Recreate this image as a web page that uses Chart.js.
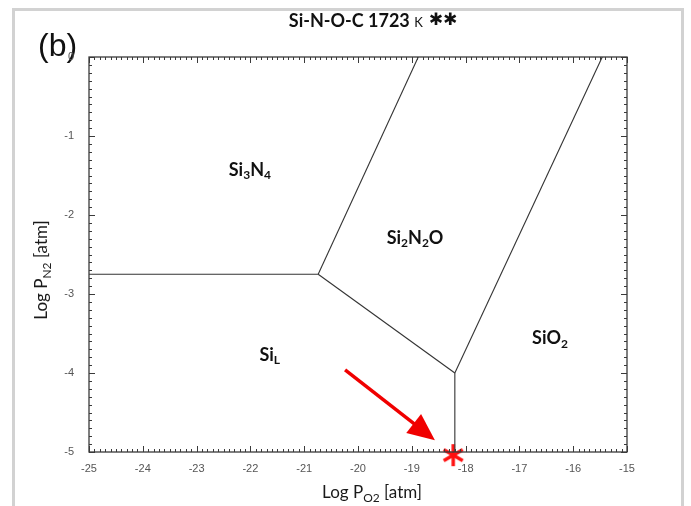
<!DOCTYPE html>
<html>
<head>
<meta charset="utf-8">
<script src="https://cdn.jsdelivr.net/npm/chart.js@4.4.0/dist/chart.umd.min.js"></script>
<style>
html, body { margin: 0; padding: 0; background: #fff; }
</style>
</head>
<body>
<canvas id="diagram" width="691" height="506"></canvas>
<script>
'use strict';
/*----data: log P(O2) / log P(N2) at 1723 K----*/
var xRange = [-25, -15];
var yRange = [-5, 0];

// phase boundaries, [logPO2, logPN2] end points
var bndSi3N4_Si = [[-25, -2.75], [-20.74, -2.75]];
var bndSi3N4_Si2N2O = [[-20.74, -2.75], [-18.88, 0]];
var bndSi_Si2N2O = [[-20.74, -2.75], [-18.2, -4.0]];
var bndSi_SiO2 = [[-18.2, -4.0], [-18.2, -5]];
var bndSi2N2O_SiO2 = [[-18.2, -4.0], [-15.46, 0]];

// phase field names (text, subscript flag) and where they sit
var phaseNames = [
	[['Si', 0], ['3', 1], ['N', 0], ['4', 1]],
	[['Si', 0], ['2', 1], ['N', 0], ['2', 1], ['O', 0]],
	[['Si', 0], ['L', 1]],
	[['Si', 0], ['O', 0], ['2', 1]]
];
var phaseX = [-22.01, -18.94, -21.64, -16.43];
var phaseY = [-1.43, -2.29, -3.77, -3.56];

// red arrow (tail, tip) and the marked working point
var arrowX = [-20.24, -18.57];
var arrowY = [-3.96, -4.85];
var markX = [-18.23];
var markY = [-5.04];

/*----red asterisk used as point style----*/
var star = document.createElement('canvas');
star.width = 26; star.height = 26;
(function() {
	var s = star.getContext('2d');
	s.strokeStyle = '#ff1010';
	s.lineWidth = 3.4;
	for (var k = 0; k < 3; k++) {
		var a = Math.PI / 2 + k * Math.PI / 3;
		s.beginPath();
		s.moveTo(13 - Math.cos(a) * 11, 13 - Math.sin(a) * 11);
		s.lineTo(13 + Math.cos(a) * 11, 13 + Math.sin(a) * 11);
		s.stroke();
	}
})();

function pts(arr) {
	return arr.map(function(p) { return {x: p[0], y: p[1]}; });
}

function richWidth(ctx, parts, size, weight, family) {
	var w = 0;
	parts.forEach(function(p) {
		ctx.font = weight + ' ' + (p[1] ? Math.round(size * 0.68) : size) + 'px ' + family;
		w += ctx.measureText(p[0]).width;
	});
	return w;
}

function drawRich(ctx, parts, cx, cy, size, weight, family) {
	var x = cx - richWidth(ctx, parts, size, weight, family) / 2;
	ctx.textAlign = 'left';
	ctx.textBaseline = 'middle';
	parts.forEach(function(p) {
		ctx.font = weight + ' ' + (p[1] ? Math.round(size * 0.68) : size) + 'px ' + family;
		ctx.fillText(p[0], x, p[1] ? cy + size * 0.3 : cy);
		x += ctx.measureText(p[0]).width;
	});
}

var decor = {
	id: 'decor',
	beforeDraw: function(chart) {
		var ctx = chart.ctx;
		ctx.save();
		ctx.strokeStyle = '#d2d2d2';
		ctx.lineWidth = 3;
		ctx.strokeRect(13.5, 9.5, 669, 520);
		// panel letter (under the axis labels)
		ctx.fillStyle = '#111';
		ctx.textBaseline = 'middle';
		ctx.textAlign = 'left';
		ctx.font = '32px "Liberation Sans", Arial, sans-serif';
		ctx.fillText('(b)', 38, 47);
		ctx.restore();
	},
	afterDatasetsDraw: function(chart) {
		var ctx = chart.ctx, a = chart.chartArea;
		var xs = chart.scales.x, ys = chart.scales.y;
		ctx.save();
		// frame
		ctx.strokeStyle = '#3a3a3a';
		ctx.lineWidth = 1.3;
		ctx.strokeRect(a.left, a.top, a.right - a.left, a.bottom - a.top);
		// inward ticks, every 0.1
		ctx.lineWidth = 1;
		ctx.beginPath();
		for (var i = 0; i <= 100; i++) {
			var px = Math.round(xs.getPixelForValue(xRange[0] + i / 10)) + 0.5;
			var l = i % 10 === 0 ? 6 : 3;
			ctx.moveTo(px, a.bottom); ctx.lineTo(px, a.bottom - l);
			ctx.moveTo(px, a.top); ctx.lineTo(px, a.top + l);
		}
		for (var j = 0; j <= 50; j++) {
			var py = Math.round(ys.getPixelForValue(yRange[0] + j / 10)) + 0.5;
			var m = j % 10 === 0 ? 6 : 3;
			ctx.moveTo(a.left, py); ctx.lineTo(a.left + m, py);
			ctx.moveTo(a.right, py); ctx.lineTo(a.right - m, py);
		}
		ctx.stroke();

		// phase labels
		ctx.fillStyle = '#111';
		phaseNames.forEach(function(n, k) {
			drawRich(ctx, n, xs.getPixelForValue(phaseX[k]), ys.getPixelForValue(phaseY[k]), 18, 'bold', 'Lato, "Open Sans", sans-serif');
		});

		// arrow
		var x0 = xs.getPixelForValue(arrowX[0]), y0 = ys.getPixelForValue(arrowY[0]);
		var x1 = xs.getPixelForValue(arrowX[1]), y1 = ys.getPixelForValue(arrowY[1]);
		var ang = Math.atan2(y1 - y0, x1 - x0);
		var hl = 27, hw = 12;
		var bx = x1 - Math.cos(ang) * hl, by = y1 - Math.sin(ang) * hl;
		ctx.strokeStyle = '#f00000';
		ctx.fillStyle = '#f00000';
		ctx.lineWidth = 3.5;
		ctx.beginPath();
		ctx.moveTo(x0, y0); ctx.lineTo(bx + Math.cos(ang) * 2, by + Math.sin(ang) * 2);
		ctx.stroke();
		ctx.beginPath();
		ctx.moveTo(x1, y1);
		ctx.lineTo(bx - Math.sin(ang) * hw, by + Math.cos(ang) * hw);
		ctx.lineTo(bx + Math.sin(ang) * hw, by - Math.cos(ang) * hw);
		ctx.closePath();
		ctx.fill();

		// chart title
		ctx.fillStyle = '#111';
		ctx.textBaseline = 'middle';
		ctx.textAlign = 'left';
		var t1 = 'Si-N-O-C 1723 ', t2 = 'K', t3 = ' \u2731\u2731';
		ctx.font = 'bold 18px Lato, sans-serif';
		var w1 = ctx.measureText(t1).width;
		ctx.font = '13px Lato, sans-serif';
		var w2 = ctx.measureText(t2).width;
		ctx.font = 'bold 17px "DejaVu Sans", sans-serif';
		var w3 = ctx.measureText(t3).width;
		var tx = 373 - (w1 + w2 + w3) / 2;
		ctx.font = 'bold 18px Lato, sans-serif';
		ctx.fillText(t1, tx, 21);
		ctx.font = '13px Lato, sans-serif';
		ctx.fillText(t2, tx + w1, 23);
		ctx.font = 'bold 17px "DejaVu Sans", sans-serif';
		ctx.fillText(t3, tx + w1 + w2, 21);

		// axis titles
		ctx.fillStyle = '#1a1a1a';
		drawRich(ctx, [['Log P', 0], ['O2', 1], [' [atm]', 0]], 372, 493, 17, 'normal', 'Lato, sans-serif');
		ctx.translate(42, 270);
		ctx.rotate(-Math.PI / 2);
		drawRich(ctx, [['Log P', 0], ['N2', 1], [' [atm]', 0]], 0, 0, 17, 'normal', 'Lato, sans-serif');
		ctx.restore();
	}
};

function bnd(arr) {
	return {
		data: pts(arr),
		showLine: true,
		borderColor: '#333',
		borderWidth: 1.1,
		pointRadius: 0,
		fill: false
	};
}

var chart = new Chart(document.getElementById('diagram'), {
	type: 'scatter',
	data: {
		datasets: [
			bnd(bndSi3N4_Si),
			bnd(bndSi3N4_Si2N2O),
			bnd(bndSi_Si2N2O),
			bnd(bndSi_SiO2),
			bnd(bndSi2N2O_SiO2),
			{
				data: markX.map(function(v, i) { return {x: v, y: markY[i]}; }),
				pointStyle: star,
				pointRadius: 13,
				showLine: false,
				clip: false
			}
		]
	},
	options: {
		responsive: false,
		animation: false,
		devicePixelRatio: 1,
		layout: { padding: { left: 0, top: 57, right: 64, bottom: 0 } },
		plugins: {
			legend: { display: false },
			tooltip: { enabled: false },
			title: { display: false }
		},
		scales: {
			x: {
				type: 'linear',
				min: xRange[0],
				max: xRange[1],
				grid: { display: false, drawTicks: false },
				border: { display: false },
				ticks: {
					stepSize: 1,
					padding: 10,
					color: '#555',
					font: { family: '"Liberation Sans", Arial, sans-serif', size: 11 }
				},
				afterFit: function(s) { s.height = 54; }
			},
			y: {
				type: 'linear',
				min: yRange[0],
				max: yRange[1],
				grid: { display: false, drawTicks: false },
				border: { display: false },
				ticks: {
					stepSize: 1,
					padding: 15,
					color: '#555',
					font: { family: '"Liberation Sans", Arial, sans-serif', size: 11 }
				},
				afterFit: function(s) { s.width = 89; }
			}
		}
	},
	plugins: [decor]
});
</script>
</body>
</html>
